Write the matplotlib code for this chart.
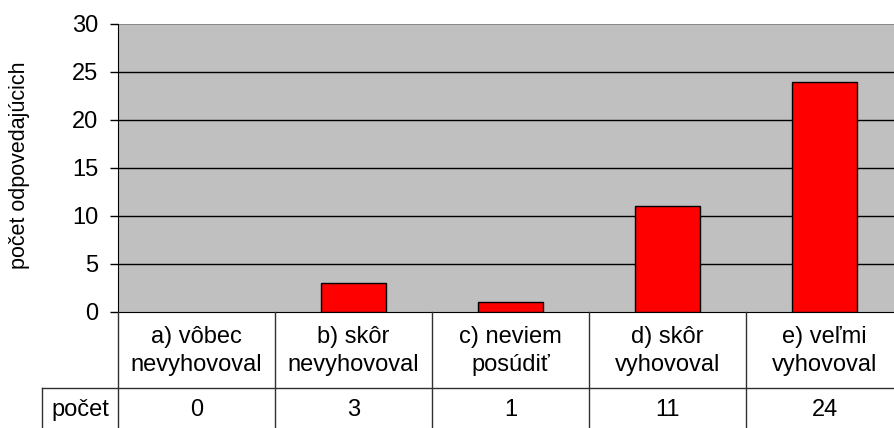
import numpy as np
import matplotlib.pyplot as plt
from matplotlib.transforms import blended_transform_factory
from matplotlib.lines import Line2D

plt.rcParams['font.family'] = ['Liberation Sans', 'DejaVu Sans']

categories = ['a) vôbec\nnevyhovoval', 'b) skôr\nnevyhovoval', 'c) neviem\nposúdiť',
              'd) skôr\nvyhovoval', 'e) veľmi\nvyhovoval']
counts = [0, 3, 1, 11, 24]
row_label = 'počet'
y_label = 'počet odpovedajúcich'
y_ticks = [0, 5, 10, 15, 20, 25, 30]

W, H = 894, 428
fig = plt.figure(figsize=(W / 100, H / 100), dpi=100)
fig.patch.set_facecolor('white')

# plot area in pixels (right edge runs slightly past the image like the original)
left, right, top, bottom = 118, 903, 24, 312
ax = fig.add_axes([left / W, 1 - bottom / H, (right - left) / W, (bottom - top) / H])
ax.set_facecolor('#C0C0C0')

x = np.arange(len(categories))
# a zero bar has no visible outline in the original
edge_w = [1 if c > 0 else 0 for c in counts]
ax.bar(x, counts, width=0.41, color='#FF0000', edgecolor='black', linewidth=edge_w, zorder=3)

ax.set_xlim(-0.5, len(categories) - 0.5)
ax.set_ylim(0, 30)
ax.set_yticks(y_ticks)
ax.set_yticklabels([str(t) for t in y_ticks], fontsize=17)
ax.tick_params(axis='y', length=5.8, width=1, pad=8.5, color='black')
ax.set_xticks([])
for t in y_ticks[1:-1]:
    ax.axhline(t, color='black', linewidth=1, zorder=1)
ax.axhline(30, color='#808080', linewidth=1.2, zorder=1)

for s in ['top', 'right']:
    ax.spines[s].set_visible(False)
ax.spines['left'].set_color('black')
ax.spines['bottom'].set_color('black')

fig.text(20 / W, 1 - 165 / H, y_label, rotation=90, fontsize=15.5,
         ha='center', va='center')

# data table below the axis
tr = blended_transform_factory(ax.transData, fig.transFigure)
row1_bot = 1 - 388 / H
row2_bot = 1 - 440 / H
axis_y = 1 - bottom / H
line_kw = dict(color='#303030', linewidth=1, clip_on=False)
for i in range(len(categories) + 1):
    xb = i - 0.5
    fig.add_artist(Line2D([xb, xb], [axis_y, row2_bot], transform=tr, **line_kw))
fig.add_artist(Line2D([42 / W, 1.0], [row1_bot, row1_bot], transform=fig.transFigure, **line_kw))
fig.add_artist(Line2D([42 / W, 42 / W], [row1_bot, row2_bot], transform=fig.transFigure, **line_kw))

for xi, cat, val in zip(x, categories, counts):
    fig.text(xi, 1 - 351 / H, cat, transform=tr, ha='center', va='center',
             fontsize=17, linespacing=1.35)
    fig.text(xi, 1 - 410 / H, str(val), transform=tr, ha='center', va='center',
             fontsize=17)
fig.text(80 / W, 1 - 410 / H, row_label, ha='center', va='center', fontsize=17)

fig.savefig('out.png', dpi=100)
